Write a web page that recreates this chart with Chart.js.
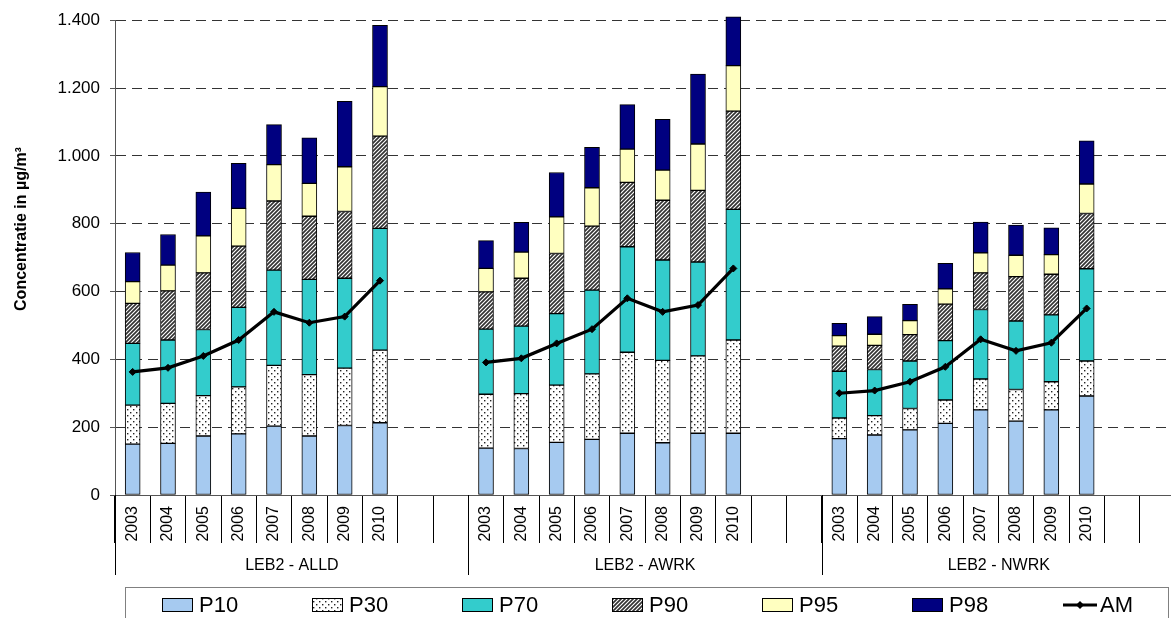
<!DOCTYPE html>
<html lang="nl">
<head>
  <meta charset="UTF-8" />
  <title>Concentratie LEB2</title>
  <script src="https://cdn.jsdelivr.net/npm/chart.js"></script>
  <style>
    html, body { margin: 0; padding: 0; background: #fff; overflow: hidden; }
    #wrap { position: relative; width: 1180px; height: 618px; }
  </style>
</head>
<body>
  <div id="wrap"><canvas id="chart"></canvas></div>

  <script>
    // data (µg/m³), 8 years per location
    const years = ['2003', '2004', '2005', '2006', '2007', '2008', '2009', '2010'];
    const groups = ['LEB2 - ALLD', 'LEB2 - AWRK', 'LEB2 - NWRK'];
    const emptySlots = 2;

    const p10 = [150, 152, 174, 180, 203, 174, 205, 213,  138, 137, 155, 164, 182, 154, 182, 182,  166, 177, 192, 211, 251, 218, 251, 292];
    const p30 = [265, 270, 293, 319, 382, 355, 374, 427,  297, 299, 324, 357, 421, 397, 410, 457,  227, 234, 255, 280, 342, 311, 334, 395];
    const p70 = [447, 457, 488, 553, 663, 636, 639, 786,  489, 498, 535, 604, 732, 693, 687, 842,  365, 370, 395, 455, 547, 513, 531, 667];
    const p90 = [565, 602, 655, 734, 867, 822, 836, 1058, 599, 639, 712, 793, 922, 869, 898, 1132, 439, 441, 473, 563, 655, 644, 651, 830];
    const p95 = [629, 678, 764, 845, 974, 919, 968, 1204, 668, 716, 820, 906, 1020, 958, 1035, 1266, 470, 474, 514, 608, 714, 707, 709, 917];
    const p98 = [715, 768, 893, 978, 1092, 1053, 1161, 1385, 750, 804, 951, 1025, 1151, 1108, 1241, 1410, 506, 526, 562, 683, 805, 796, 788, 1044];
    const am  = [363, 375, 410, 457, 540, 508, 526, 632,  391, 403, 447, 489, 580, 540, 560, 668,  300, 308, 334, 378, 459, 425, 449, 550];

    const yTicks = [0, 200, 400, 600, 800, 1000, 1200, 1400];

    const FONT = "'Liberation Sans', Arial, sans-serif";
    const slots = years.length + emptySlots;

    // category labels: years plus two empty slots per location
    const labels = [];
    groups.forEach(() => {
      years.forEach(y => labels.push(y));
      for (let i = 0; i < emptySlots; i++) labels.push('');
    });

    // spread 24 values over the 30 slots
    function spread(vals) {
      const out = [];
      groups.forEach((g, gi) => {
        years.forEach((y, yi) => out.push(vals[gi * years.length + yi]));
        for (let i = 0; i < emptySlots; i++) out.push(null);
      });
      return out;
    }
    // floating segment from previous percentile to this one
    function segment(lower, upper) {
      const lo = lower ? spread(lower) : null;
      return spread(upper).map((v, i) => v === null ? null : [lo ? lo[i] : 0, v]);
    }

    function dotPattern() {
      const c = document.createElement('canvas');
      c.width = 6; c.height = 6;
      const g = c.getContext('2d');
      g.fillStyle = '#fff';
      g.fillRect(0, 0, 6, 6);
      g.fillStyle = '#222';
      g.fillRect(1, 1, 1.4, 1.4);
      g.fillRect(4, 4, 1.4, 1.4);
      return g.createPattern(c, 'repeat');
    }
    function hatchPattern() {
      const c = document.createElement('canvas');
      c.width = 4; c.height = 4;
      const g = c.getContext('2d');
      g.fillStyle = '#fff';
      g.fillRect(0, 0, 4, 4);
      g.strokeStyle = '#333';
      g.lineWidth = 1.7;
      g.beginPath();
      g.moveTo(-1, 5); g.lineTo(5, -1);
      g.moveTo(-1, 1); g.lineTo(1, -1);
      g.moveTo(3, 5); g.lineTo(5, 3);
      g.stroke();
      return g.createPattern(c, 'repeat');
    }

    function fmt(v) {
      return String(v).replace(/\B(?=(\d{3})+(?!\d))/g, '.');
    }

    function barSet(label, data, fill) {
      return {
        type: 'bar', label: label, data: data,
        backgroundColor: fill, borderColor: '#000', borderWidth: 1,
        borderSkipped: false, grouped: false, barThickness: 15,
        clip: 8, order: 1
      };
    }

    const groupPlugin = {
      id: 'groupLabels',
      afterDraw(chart) {
        const { ctx, chartArea } = chart;
        const x = chart.scales.x;
        const half = (x.getPixelForValue(1) - x.getPixelForValue(0)) / 2;
        const base = chartArea.bottom;
        ctx.save();
        ctx.strokeStyle = '#000';
        ctx.lineWidth = 1;
        ctx.fillStyle = '#000';
        ctx.font = '16px ' + FONT;
        ctx.textAlign = 'center';
        ctx.textBaseline = 'middle';
        groups.forEach((g, gi) => {
          const left = Math.round(x.getPixelForValue(gi * slots) - half) + 0.5;
          const right = x.getPixelForValue((gi + 1) * slots - 1) + half;
          ctx.beginPath();
          ctx.moveTo(left, base);
          ctx.lineTo(left, base + 80);
          ctx.stroke();
          ctx.fillText(g, (left + right) / 2, base + 71);
        });
        // y axis title
        ctx.save();
        ctx.translate(22, 229);
        ctx.rotate(-Math.PI / 2);
        ctx.font = 'bold 16px ' + FONT;
        ctx.fillText('Concentratie in µg/m³', 0, 0);
        ctx.restore();
        ctx.restore();
      }
    };

    const legendPlugin = {
      id: 'boxLegend',
      afterDraw(chart) {
        const ctx = chart.ctx;
        ctx.save();
        ctx.strokeStyle = '#808080';
        ctx.lineWidth = 1;
        ctx.strokeRect(125.5, 587.5, 1043, 60);
        ctx.font = '22px ' + FONT;
        ctx.textBaseline = 'middle';
        ctx.fillStyle = '#000';
        const ds = chart.data.datasets;
        ds.forEach((d, i) => {
          const x0 = 162 + i * 150;
          const yc = 605;
          if (d.type === 'line') {
            ctx.strokeStyle = '#000';
            ctx.lineWidth = 3;
            ctx.beginPath();
            ctx.moveTo(x0 + 1, yc);
            ctx.lineTo(x0 + 35, yc);
            ctx.stroke();
            ctx.beginPath();
            ctx.moveTo(x0 + 18, yc - 4); ctx.lineTo(x0 + 22, yc);
            ctx.lineTo(x0 + 18, yc + 4); ctx.lineTo(x0 + 14, yc);
            ctx.closePath();
            ctx.fill();
            ctx.fillText(d.label, x0 + 38, yc + 1);
          } else {
            ctx.fillStyle = d.backgroundColor;
            ctx.fillRect(x0, yc - 7, 31, 14);
            ctx.strokeStyle = '#000';
            ctx.lineWidth = 1;
            ctx.strokeRect(x0 + 0.5, yc - 6.5, 30, 13);
            ctx.fillStyle = '#000';
            ctx.fillText(d.label, x0 + 37, yc + 1);
          }
        });
        ctx.restore();
      }
    };

    new Chart(document.getElementById('chart'), {
      data: {
        labels: labels,
        datasets: [
          barSet('P10', segment(null, p10), '#a6caf0'),
          barSet('P30', segment(p10, p30), dotPattern()),
          barSet('P70', segment(p30, p70), '#33cccc'),
          barSet('P90', segment(p70, p90), hatchPattern()),
          barSet('P95', segment(p90, p95), '#ffffc0'),
          barSet('P98', segment(p95, p98), '#000080'),
          {
            type: 'line', label: 'AM', data: spread(am),
            borderColor: '#000', backgroundColor: '#000', borderWidth: 3.2,
            pointStyle: 'rectRot', pointRadius: 3.5, pointBorderWidth: 1,
            pointBackgroundColor: '#000', tension: 0, spanGaps: false, order: 0
          }
        ]
      },
      options: {
        responsive: true,
        maintainAspectRatio: false,
        animation: false,
        layout: { padding: { top: 20, right: 3, left: 0, bottom: 0 } },
        plugins: { legend: { display: false }, tooltip: { enabled: false } },
        scales: {
          x: {
            type: 'category',
            offset: true,
            grid: {
              offset: true, drawOnChartArea: false, drawTicks: true,
              tickLength: 48, color: '#000', tickColor: '#000'
            },
            border: { color: '#555', width: 1 },
            ticks: {
              autoSkip: false, minRotation: 90, maxRotation: 90,
              padding: -37, color: '#000', font: { family: FONT, size: 16 }
            },
            afterFit(scale) { scale.height = 123; }
          },
          y: {
            min: 0, max: 1400,
            afterBuildTicks(scale) { scale.ticks = yTicks.map(v => ({ value: v })); },
            grid: {
              color: '#333', tickColor: '#555', tickLength: 5,
              tickBorderDash: []
            },
            border: { color: '#555', width: 1, dash: [10, 6] },
            ticks: {
              padding: 10, color: '#000', font: { family: FONT, size: 17 },
              callback: v => fmt(v)
            },
            afterFit(scale) { scale.width = 115; }
          }
        }
      },
      plugins: [groupPlugin, legendPlugin]
    });
  </script>
</body>
</html>
